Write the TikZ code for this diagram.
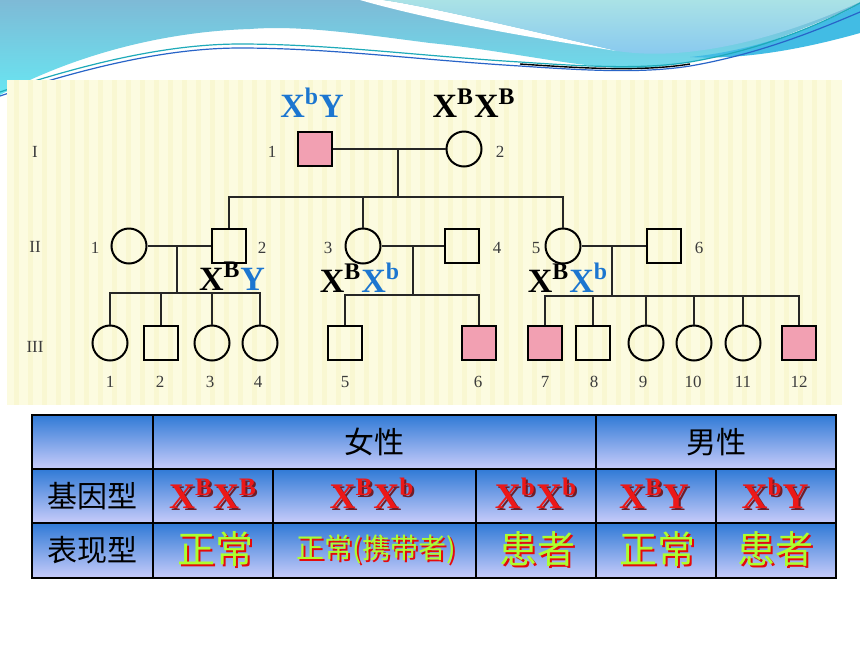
\documentclass[tikz,border=0pt]{standalone}
\usepackage{fontspec}
\setmainfont{Liberation Serif}
\newfontfamily\cjk{Noto Sans CJK SC}
\usetikzlibrary{calc}
\definecolor{illpink}{RGB}{242,160,178}
\definecolor{panelyellow}{RGB}{252,251,224}
\definecolor{stripeyellow}{RGB}{249,247,210}
\definecolor{gblue}{RGB}{28,118,208}
\definecolor{numgray}{RGB}{60,60,60}
\definecolor{cellblue}{RGB}{48,122,214}
\definecolor{cellmid}{RGB}{150,170,236}
\definecolor{celllav}{RGB}{200,204,250}
\definecolor{genred}{RGB}{236,24,24}
\definecolor{genshade}{RGB}{110,30,40}
\definecolor{phgreen}{RGB}{172,255,46}
\definecolor{phred}{RGB}{230,10,10}
\definecolor{skytop}{RGB}{126,186,214}
\definecolor{skybot}{RGB}{104,230,242}
\definecolor{aquatop}{RGB}{170,226,230}
\definecolor{aquabot}{RGB}{132,198,240}
\definecolor{deepcyan}{RGB}{66,188,228}
\definecolor{waveteal}{RGB}{30,170,185}
\definecolor{waveblue}{RGB}{40,100,200}
% text with a drop shadow: fg, shadow, text
\newcommand\shtxt[3]{\makebox[0pt][l]{\hspace{1pt}\raisebox{-1pt}{\textcolor{#2}{#3}}}\textcolor{#1}{#3}}

\begin{document}
\begin{tikzpicture}[x=0.5pt, y=-0.5pt,
    male/.style={draw, line width=1pt, minimum size=17pt, inner sep=0pt},
    female/.style={male, circle, minimum size=17.5pt},
    illmale/.style={male, fill=illpink},
    pline/.style={line width=1pt, draw=black!85},
    num/.style={font=\fontsize{8.5}{9}\selectfont, text=numgray, inner sep=0pt},
    gt/.style={font=\fontsize{17}{17}\selectfont\bfseries, inner sep=0pt, anchor=base},
    cell/.style={top color=cellblue, middle color=cellmid, bottom color=celllav},
    hdr/.style={font=\cjk\fontsize{15}{15}\selectfont, inner sep=0pt},
    gtab/.style={font=\fontsize{18}{18}\selectfont\bfseries, inner sep=0pt, anchor=base},
    ptab/.style={font=\cjk\fontsize{19}{19}\selectfont, inner sep=0pt},
    ptabs/.style={font=\cjk\fontsize{14}{14}\selectfont, inner sep=0pt}]
    \useasboundingbox (0,0) rectangle (860,645);
    \fill[white] (0,0) rectangle (860,645);

    % Top waves
    \shade[top color=skytop, bottom color=skybot] (0,0) -- (860,0) -- (860,5)
        .. controls (810,25) and (760,50) .. (700,60)
        .. controls (660,68) and (640,69) .. (617,68)
        .. controls (560,64) and (500,50) .. (430,43)
        .. controls (360,34) and (300,25) .. (250,29)
        .. controls (150,32) and (60,62) .. (0,95) -- cycle;
    \fill[deepcyan] (690,57) .. controls (760,50) and (820,25) .. (860,4)
        -- (860,33) .. controls (800,50) and (740,60) .. (690,57) -- cycle;
    \fill[white] (383,0) .. controls (420,5) and (520,28) .. (617,51)
        .. controls (520,36) and (430,20) .. (360,0) -- cycle;
    \shade[top color=aquatop, bottom color=aquabot] (383,0)
        .. controls (420,5) and (520,28) .. (617,51)
        .. controls (690,62) and (780,38) .. (860,2) -- (860,0) -- cycle;
    \draw[waveteal, line width=0.6pt] (0,92) .. controls (90,62) and (170,44) .. (240,44)
        .. controls (330,44) and (420,56) .. (520,62)
        .. controls (580,66) and (640,70) .. (690,62)
        .. controls (760,50) and (820,25) .. (860,3);
    \draw[waveblue, line width=0.6pt, yshift=-2pt] (0,92) .. controls (90,62) and (170,44) .. (240,44)
        .. controls (330,44) and (420,56) .. (520,62)
        .. controls (580,66) and (640,70) .. (690,62)
        .. controls (760,50) and (820,25) .. (860,8);
    \draw[black, line width=0.7pt] (520,64) .. controls (580,68) and (640,72) .. (690,64);

    % Pedigree panel
    \fill[panelyellow] (7,80) rectangle (842,405);
    \foreach \x in {14,28,...,830}
        \fill[stripeyellow] (\x,80) rectangle ++(5,325);

    % Generation I
    \node[illmale] (I1) at (315,149) {};
    \node[female] (I2) at (464,149) {};
    % Generation II
    \node[female] (II1) at (129,246) {};
    \node[male] (II2) at (229,246) {};
    \node[female] (II3) at (363,246) {};
    \node[male] (II4) at (462,246) {};
    \node[female] (II5) at (563,246) {};
    \node[male] (II6) at (664,246) {};
    % Generation III
    \foreach \n/\x/\s in {1/110/female, 2/161/male, 3/212/female, 4/260/female,
        5/345/male, 6/479/illmale, 7/545/illmale, 8/593/male, 9/646/female,
        10/694/female, 11/743/female, 12/799/illmale}
        \node[\s] (III\n) at (\x,343) {};

    % Marriage and sibship lines
    \coordinate (m1) at (398,149);
    \coordinate (s1) at (398,197);
    \coordinate (m2) at (177,246);
    \coordinate (s2) at (177,293);
    \coordinate (m3) at (413,246);
    \coordinate (s3) at (413,295);
    \coordinate (m4) at (612,246);
    \coordinate (s4) at (612,296);
    \draw[pline] (I1) -- (I2);
    \draw[pline] (m1) -- (s1);
    \draw[pline] (II2.north) |- (s1) -| (II5.north);
    \draw[pline] (II3.north) -- (II3.north |- s1);
    \draw[pline] (II1) -- (II2);
    \draw[pline] (II3) -- (II4);
    \draw[pline] (II5) -- (II6);
    \draw[pline] (m2) -- (s2);
    \draw[pline] (III1.north) |- (s2) -| (III4.north);
    \foreach \n in {2,3}
        \draw[pline] (III\n.north) -- (III\n.north |- s2);
    \draw[pline] (m3) -- (s3);
    \draw[pline] (III5.north) |- (s3) -| (III6.north);
    \draw[pline] (m4) -- (s4);
    \draw[pline] (III7.north) |- (s4) -| (III12.north);
    \foreach \n in {8,9,10,11}
        \draw[pline] (III\n.north) -- (III\n.north |- s4);

    % Generation and member numbers
    \node[num] (gI) at (35,152) {I};
    \node[num] (gII) at (35,247) {II};
    \node[num] (gIII) at (35,347) {III};
    \node[num] (nI1) at (272,152) {1};
    \node[num] (nI2) at (500,152) {2};
    \foreach \n/\x in {1/95, 2/262, 3/328, 4/497, 5/536, 6/699}
        \node[num] (nII\n) at (\x,248) {\n};
    \foreach \n/\x in {1/110, 2/160, 3/210, 4/258, 5/345, 6/478, 7/545, 8/594,
        9/643, 10/693, 11/743, 12/799}
        \node[num] (nIII\n) at (\x,382) {\n};

    % Genotypes in the pedigree
    \node[gt, text=gblue] (tI1) at (312,117) {X\textsuperscript{b}Y};
    \node[gt] (tI2) at (474,117) {X\textsuperscript{B}X\textsuperscript{B}};
    \node[gt] (tII2) at (232,290) {X\textsuperscript{B}\textcolor{gblue}{Y}};
    \node[gt] (tII3) at (360,292) {X\textsuperscript{B}\textcolor{gblue}{X\textsuperscript{b}}};
    \node[gt] (tII5) at (568,292) {X\textsuperscript{B}\textcolor{gblue}{X\textsuperscript{b}}};

    % Table cells
    \shade[cell] (32,415) rectangle (153,469);
    \shade[cell] (153,415) rectangle (596,469);
    \shade[cell] (596,415) rectangle (836,469);
    \foreach \a/\b in {32/153, 153/273, 273/476, 476/596, 596/716, 716/836} {
        \shade[cell] (\a,469) rectangle (\b,523);
        \shade[cell] (\a,523) rectangle (\b,578);
    }
    \draw[line width=0.8pt] (32,469) -- (836,469);
    \draw[line width=0.8pt] (32,523) -- (836,523);
    \draw[line width=0.8pt] (153,415) -- (153,578);
    \draw[line width=0.8pt] (596,415) -- (596,578);
    \foreach \x in {273,476,716}
        \draw[line width=0.8pt] (\x,469) -- (\x,578);
    \draw[line width=1.3pt] (32,415) rectangle (836,578);

    % Table texts
    \node[hdr] (hF) at (374,442) {女性};
    \node[hdr] (hM) at (716,442) {男性};
    \node[hdr] (rG) at (92,496) {基因型};
    \node[hdr] (rP) at (92,550) {表现型};
    \node[gtab] (g1) at (213,508) {\shtxt{genred}{genshade}{X\textsuperscript{B}X\textsuperscript{B}}};
    \node[gtab] (g2) at (372,508) {\shtxt{genred}{genshade}{X\textsuperscript{B}X\textsuperscript{b}}};
    \node[gtab] (g3) at (536,508) {\shtxt{genred}{genshade}{X\textsuperscript{b}X\textsuperscript{b}}};
    \node[gtab] (g4) at (654,508) {\shtxt{genred}{genshade}{X\textsuperscript{B}Y}};
    \node[gtab] (g5) at (775,508) {\shtxt{genred}{genshade}{X\textsuperscript{b}Y}};
    \node[ptab] (p1) at (215,550) {\shtxt{phgreen}{phred}{正常}};
    \node[ptabs] (p2) at (376,550) {\shtxt{phgreen}{phred}{正常(携带者)}};
    \node[ptab] (p3) at (537,550) {\shtxt{phgreen}{phred}{患者}};
    \node[ptab] (p4) at (657,550) {\shtxt{phgreen}{phred}{正常}};
    \node[ptab] (p5) at (775,550) {\shtxt{phgreen}{phred}{患者}};
\end{tikzpicture}
\end{document}
